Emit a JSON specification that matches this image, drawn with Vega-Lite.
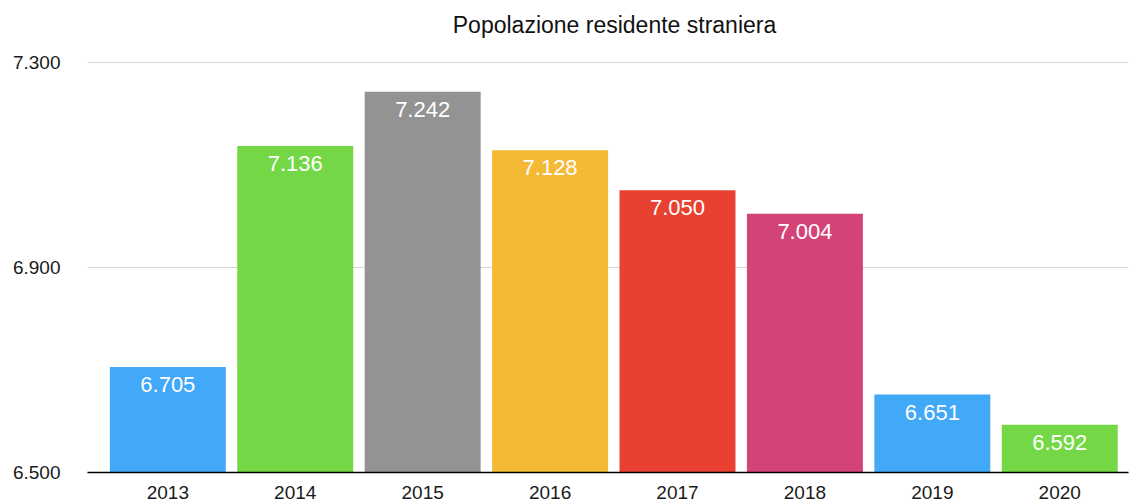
{
  "$schema": "https://vega.github.io/schema/vega-lite/v6.json",
  "width": 1041,
  "height": 410,
  "autosize": {"type": "none"},
  "padding": {"left": 87, "top": 62, "right": 4, "bottom": 27},
  "background": "white",
  "config": {
    "locale": {"number": {"decimal": ",", "thousands": ".", "grouping": [3], "currency": ["€", ""]}},
    "font": "Liberation Sans",
    "view": {"stroke": null}
  },
  "title": {
    "text": "Popolazione residente straniera",
    "fontSize": 23,
    "fontWeight": "normal",
    "color": "#111111",
    "font": "Liberation Sans",
    "anchor": "middle",
    "baseline": "alphabetic",
    "offset": 2,
    "dx": 7,
    "dy": 5
  },
  "data": {
    "values": [
      {"year": "2013", "value": 6705},
      {"year": "2014", "value": 7136},
      {"year": "2015", "value": 7242},
      {"year": "2016", "value": 7128},
      {"year": "2017", "value": 7050},
      {"year": "2018", "value": 7004},
      {"year": "2019", "value": 6651},
      {"year": "2020", "value": 6592}
    ]
  },
  "encoding": {
    "x": {
      "field": "year",
      "type": "ordinal",
      "sort": null,
      "scale": {"paddingInner": 0.09, "paddingOuter": 0.13, "align": 0.69},
      "axis": {
        "title": null,
        "labelAngle": 0,
        "labelFontSize": 19,
        "labelColor": "#1a1a1a",
        "labelPadding": 11,
        "ticks": false,
        "domainColor": "#000000",
        "domainWidth": 1.5,
        "grid": false,
        "zindex": 1
      }
    },
    "y": {
      "field": "value",
      "type": "quantitative",
      "scale": {"domain": [6500, 7300], "zero": false, "nice": false},
      "axis": {
        "title": null,
        "values": [6500, 6900, 7300],
        "format": ",.0f",
        "labelFontSize": 19,
        "labelColor": "#1a1a1a",
        "labelPadding": 27,
        "ticks": false,
        "domain": false,
        "grid": true,
        "gridColor": "#d6d6d6",
        "gridWidth": 1
      }
    }
  },
  "layer": [
    {
      "mark": {"type": "bar"},
      "encoding": {
        "y2": {"datum": 6500},
        "color": {
          "field": "year",
          "type": "nominal",
          "legend": null,
          "scale": {
            "domain": ["2013", "2014", "2015", "2016", "2017", "2018", "2019", "2020"],
            "range": ["#42a8f8", "#74d846", "#939393", "#f4ba35", "#e84131", "#d44377", "#42a8f8", "#74d846"]
          }
        }
      }
    },
    {
      "mark": {"type": "text", "baseline": "middle", "dy": 18, "fontSize": 22, "color": "white", "font": "Liberation Sans"},
      "encoding": {
        "text": {"field": "value", "type": "quantitative", "format": ",.0f"}
      }
    }
  ]
}
